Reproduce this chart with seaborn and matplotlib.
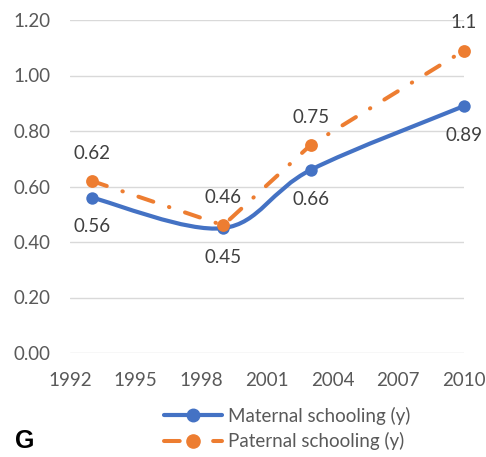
import numpy as np
import pandas as pd
import matplotlib
matplotlib.use("Agg")
import matplotlib.pyplot as plt
import seaborn as sns
from matplotlib.path import Path
from matplotlib.patches import PathPatch
from matplotlib.lines import Line2D

years = [1993, 1999, 2003, 2010]
maternal = [0.56, 0.45, 0.66, 0.89]
paternal = [0.62, 0.46, 0.75, 1.09]
paternal_labels = ["0.62", "0.46", "0.75", "1.1"]
maternal_labels = ["0.56", "0.45", "0.66", "0.89"]
series_names = ["Maternal schooling (y)", "Paternal schooling (y)"]
xticks = [1992, 1995, 1998, 2001, 2004, 2007, 2010]
yticks = [0.0, 0.2, 0.4, 0.6, 0.8, 1.0, 1.2]

sns.set_theme(style="white")
plt.rcParams["font.family"] = ["Lato", "DejaVu Sans"]

blue = "#4472C4"
orange = "#ED7D31"
txt = "#595959"
lab = "#404040"
FS = 13.5
DASH = [3.9, 4.1, 0.1, 4.1]

fig = plt.figure(figsize=(4.86, 4.57), dpi=100)
ax = fig.add_axes([70/486, 1-353/457, (464-70)/486, (353-20)/457])

df = pd.DataFrame({"year": years, "Maternal": maternal, "Paternal": paternal})

# Maternal: smoothed line (Excel-style Bezier smoothing through data points)
xs = np.array(years, float); ys = np.array(maternal, float)
n = len(xs)
verts = [(xs[0], ys[0])]; codes = [Path.MOVETO]
for i in range(n - 1):
    p0 = max(i - 1, 0); p3 = min(i + 2, n - 1)
    c1 = (xs[i] + (xs[i+1] - xs[p0]) / 6, ys[i] + (ys[i+1] - ys[p0]) / 6)
    c2 = (xs[i+1] - (xs[p3] - xs[i]) / 6, ys[i+1] - (ys[p3] - ys[i]) / 6)
    verts += [c1, c2, (xs[i+1], ys[i+1])]
    codes += [Path.CURVE4] * 3
ax.add_patch(PathPatch(Path(verts, codes), fill=False, edgecolor=blue, lw=3.0,
                       capstyle="round", zorder=3))
sns.scatterplot(data=df, x="year", y="Maternal", ax=ax, color=blue, s=80,
                edgecolor=blue, linewidth=0, zorder=4, legend=False)

# Paternal: dash-dot line
sns.lineplot(data=df, x="year", y="Paternal", ax=ax, color=orange, lw=2.9,
             dashes=False, zorder=3, legend=False)
ax.lines[-1].set_dashes(DASH)
ax.lines[-1].set_dash_capstyle("round")
sns.scatterplot(data=df, x="year", y="Paternal", ax=ax, color=orange, s=85,
                edgecolor=orange, linewidth=0, zorder=4, legend=False)

for x, y, l in zip(years, paternal, paternal_labels):
    ax.annotate(l, (x, y), xytext=(0, 20), textcoords="offset points",
                ha="center", va="center", fontsize=FS, color=lab)
for x, y, l in zip(years, maternal, maternal_labels):
    ax.annotate(l, (x, y), xytext=(0, -21), textcoords="offset points",
                ha="center", va="center", fontsize=FS, color=lab)

ax.set_xlim(1992, 2010)
ax.set_ylim(0, 1.2)
ax.set_xticks(xticks)
ax.set_yticks(yticks)
ax.set_yticklabels([f"{v:.2f}" for v in yticks])
ax.tick_params(axis="both", length=0, labelsize=FS, labelcolor=txt)
ax.tick_params(axis="y", pad=14)
ax.tick_params(axis="x", pad=14)
ax.set_xlabel(""); ax.set_ylabel("")
ax.grid(axis="y", color="#D9D9D9", lw=1)
ax.grid(axis="x", visible=False)
for s in ax.spines.values():
    s.set_visible(False)
for c in ax.collections:
    c.set_clip_on(False)

h1 = Line2D([], [], color=blue, lw=3.0, marker="o", ms=9)
h2 = Line2D([], [], color=orange, lw=2.9, marker="o", ms=9.5, dashes=DASH,
            dash_capstyle="round")
fig.legend([h1, h2], series_names, loc="upper left", bbox_to_anchor=(147/486, 1-390/457),
           frameon=False, fontsize=FS, labelcolor=txt, handlelength=3.1,
           handletextpad=0.3, labelspacing=0.4)

fig.text(15/486, 1-441/457, "G", fontsize=18, fontweight="bold", color="black",
         ha="left", va="center", family="Liberation Sans")

fig.savefig("out.png", dpi=100)
